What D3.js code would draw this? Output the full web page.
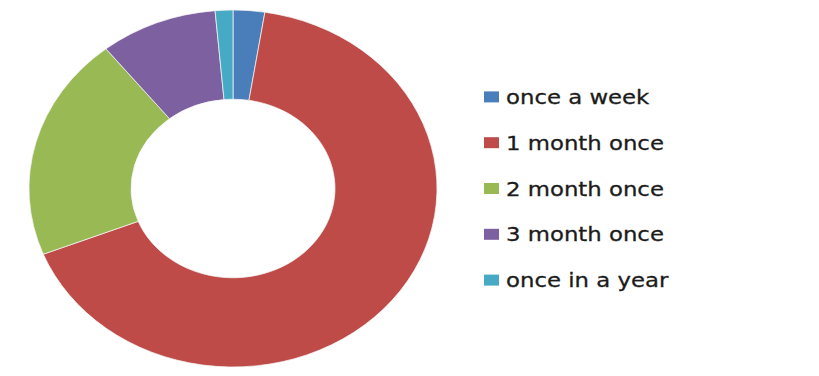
<!DOCTYPE html>
<html>
<head>
<meta charset="utf-8">
<script src="https://cdn.jsdelivr.net/npm/d3@7"></script>
<style>
  body { margin: 0; background: #fff; }
  svg { display: block; }
</style>
</head>
<body>
<svg id="chart"></svg>
<script>
var categories = ['once a week', '1 month once', '2 month once', '3 month once', 'once in a year'];
var values = [2.5, 66.5, 20.3, 9.3, 1.4];
var colors = ['#4a7ebb', '#be4b48', '#98b954', '#7d60a0', '#46aac5'];

var width = 819, height = 376;
var cx = 233, cy = 188.5;
var outer_r = 204, inner_r = 102;
var squash = 0.875;  // the original picture is stretched sideways

var svg = d3.select('#chart').attr('width', width).attr('height', height);

var pie = d3.pie().sort(null).value(d => d);
var arc = d3.arc().innerRadius(inner_r).outerRadius(outer_r);

var g = svg.append('g')
  .attr('transform', 'translate(' + cx + ',' + cy + ') scale(1,' + squash + ')');

g.selectAll('.slice')
  .data(pie(values))
  .enter()
  .append('path')
    .attr('class', 'slice')
    .attr('d', arc)
    .attr('fill', (d, i) => colors[i])
    .attr('stroke', '#f4f4f4')
    .attr('stroke-width', 0.8);

// legend
var legend_y = d3.scaleBand().domain(categories).range([74, 303]);

var rows = svg.selectAll('.legend_row')
  .data(categories)
  .enter()
  .append('g')
    .attr('class', 'legend_row')
    .attr('transform', d => 'translate(0,' + (legend_y(d) + legend_y.bandwidth() / 2) + ')');

rows.append('rect')
  .attr('x', 484)
  .attr('y', -5.5)
  .attr('width', 15)
  .attr('height', 11)
  .attr('fill', (d, i) => colors[i]);

// text is widened like the rest of the picture
rows.append('text')
  .attr('transform', 'translate(506,7) scale(1.14,1)')
  .attr('font-family', 'DejaVu Sans')
  .attr('font-size', 20)
  .attr('fill', '#1b1b1b')
  .attr('stroke', '#1b1b1b')
  .attr('stroke-width', 0.3)
  .text(d => d);
</script>
</body>
</html>
